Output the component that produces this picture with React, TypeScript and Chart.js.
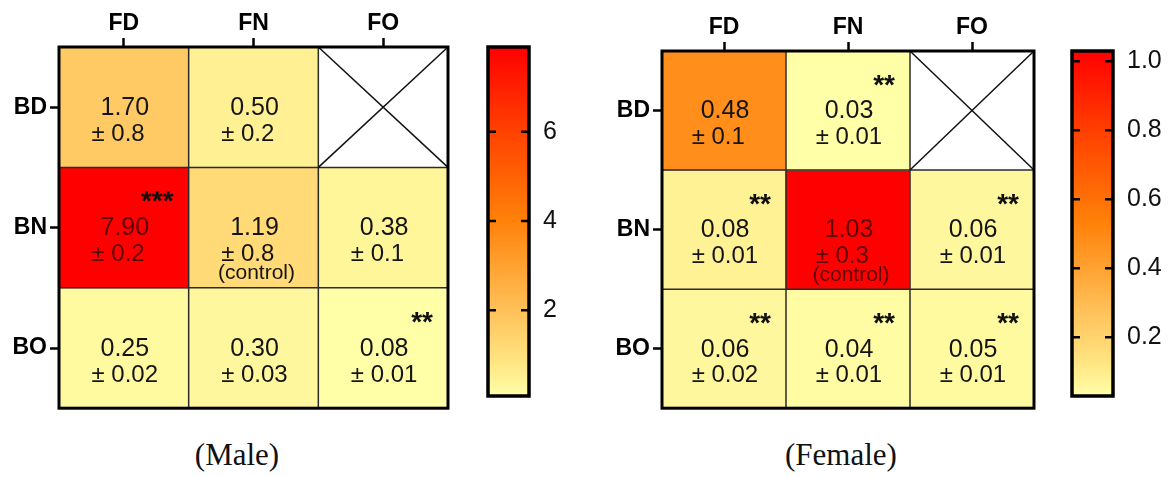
import React, { useEffect, useRef } from "react";
import { Chart, registerables } from "chart.js";

Chart.register(...registerables);

// ---------- data ----------
const colLabels = ["FD", "FN", "FO"];
const rowLabels = ["BD", "BN", "BO"];

const maleMeans: (number | null)[][] = [
  [1.7, 0.5, null],
  [7.9, 1.19, 0.38],
  [0.25, 0.3, 0.08],
];
const maleErrors: (string | null)[][] = [
  ["0.8", "0.2", null],
  ["0.2", "0.8", "0.1"],
  ["0.02", "0.03", "0.01"],
];
const maleStars: string[][] = [
  ["", "", ""],
  ["***", "", ""],
  ["", "", "**"],
];
const maleScaleMin = 0.08;
const maleScaleMax = 7.9;
const maleScaleTicks = [2, 4, 6];

const femaleMeans: (number | null)[][] = [
  [0.48, 0.03, null],
  [0.08, 1.03, 0.06],
  [0.06, 0.04, 0.05],
];
const femaleErrors: (string | null)[][] = [
  ["0.1", "0.01", null],
  ["0.01", "0.3", "0.01"],
  ["0.02", "0.01", "0.01"],
];
const femaleStars: string[][] = [
  ["", "**", ""],
  ["**", "", "**"],
  ["**", "**", "**"],
];
const femaleScaleMin = 0.03;
const femaleScaleMax = 1.03;
const femaleScaleTicks = [0.2, 0.4, 0.6, 0.8, 1.0];

const controlCell = [1, 1];
const controlLabel = "(control)";

// ---------- colour map ----------
const cmapStops: [number, number[]][] = [
  [0, [255, 255, 168]],
  [0.1, [255, 228, 130]],
  [0.25, [255, 192, 88]],
  [0.5, [255, 130, 10]],
  [0.75, [255, 68, 0]],
  [1, [255, 0, 0]],
];
function cmap(t: number): string {
  const tt = Math.max(0, Math.min(1, t));
  for (let i = 1; i < cmapStops.length; i++) {
    const [t1, c1] = cmapStops[i];
    const [t0, c0] = cmapStops[i - 1];
    if (tt <= t1) {
      const f = (tt - t0) / (t1 - t0);
      const c = c0.map((v, k) => Math.round(v + (c1[k] - v) * f));
      return `rgb(${c[0]},${c[1]},${c[2]})`;
    }
  }
  return "rgb(255,0,0)";
}

const SANS = '"Liberation Sans", Arial, Helvetica, sans-serif';
const font = (size: number, weight = "normal") => `${weight} ${size}px ${SANS}`;

// ---------- heatmap ----------
type HeatProps = {
  means: (number | null)[][];
  errors: (string | null)[][];
  stars: string[][];
  min: number;
  max: number;
  left: number;
  top: number;
  width: number;
  height: number;
  leftW: number;
  topH: number;
  padRight: number;
  padBottom: number;
};

function Heatmap(p: HeatProps) {
  const ref = useRef<HTMLCanvasElement>(null);
  useEffect(() => {
    if (!ref.current) return;
    const norm = (v: number) => (v - p.min) / (p.max - p.min);
    const datasets = rowLabels.map((rl, r) => ({
      label: rl,
      data: colLabels.map(() => [r - 0.5, r + 0.5]),
      backgroundColor: colLabels.map((_, c) => {
        const v = p.means[r][c];
        return v == null ? "#ffffff" : cmap(norm(v));
      }),
      borderWidth: 0,
      grouped: false,
      barPercentage: 1,
      categoryPercentage: 1,
    }));

    const cellPlugin = {
      id: "cells",
      afterDatasetsDraw(chart: any) {
        const { ctx, chartArea: ca, scales } = chart;
        const xs = scales.x;
        const ys = scales.y;
        const half = (xs.getPixelForValue(1) - xs.getPixelForValue(0)) / 2;
        ctx.save();
        const line = (x0: number, y0: number, x1: number, y1: number) => {
          ctx.beginPath();
          ctx.moveTo(x0, y0);
          ctx.lineTo(x1, y1);
          ctx.stroke();
        };
        ctx.strokeStyle = "#2a2a2a";
        ctx.lineWidth = 1.5;
        for (let c = 1; c < colLabels.length; c++) {
          const x = xs.getPixelForValue(c) - half;
          line(x, ca.top, x, ca.bottom);
        }
        for (let r = 1; r < rowLabels.length; r++) {
          const y = ys.getPixelForValue(r - 0.5);
          line(ca.left, y, ca.right, y);
        }
        rowLabels.forEach((_, r) => {
          colLabels.forEach((__, c) => {
            const cx = xs.getPixelForValue(c);
            const cy = ys.getPixelForValue(r);
            const x0 = cx - half;
            const x1 = cx + half;
            const y0 = ys.getPixelForValue(r - 0.5);
            const y1 = ys.getPixelForValue(r + 0.5);
            const v = p.means[r][c];
            if (v == null) {
              ctx.strokeStyle = "#111";
              ctx.lineWidth = 1.5;
              line(x0, y0, x1, y1);
              line(x0, y1, x1, y0);
              return;
            }
            const t = norm(v);
            const col = t > 0.9 ? "#5e0000" : "#141414";
            ctx.fillStyle = col;
            ctx.textBaseline = "middle";
            ctx.textAlign = "center";
            ctx.font = font(25);
            const vs = v.toFixed(2);
            const vw = ctx.measureText(vs).width;
            const vx = cx + 1;
            ctx.fillText(vs, vx, cy + 1);
            const err = p.errors[r][c];
            if (err != null) {
              ctx.font = font(24);
              ctx.textAlign = "left";
              ctx.fillText("\u00b1 " + err, vx - vw / 2 - 9, cy + 27);
            }
            if (r === controlCell[0] && c === controlCell[1]) {
              ctx.font = font(21);
              ctx.textAlign = "center";
              ctx.fillText(controlLabel, cx + 3, cy + 46);
            }
            const st = p.stars[r][c];
            if (st) {
              ctx.font = font(28, "bold");
              ctx.textAlign = "right";
              ctx.textBaseline = "alphabetic";
              ctx.fillStyle = "#111";
              ctx.fillText(st, x1 - 15, y0 + 43);
            }
          });
        });
        ctx.strokeStyle = "#000";
        ctx.lineWidth = 3;
        ctx.strokeRect(ca.left, ca.top, ca.right - ca.left, ca.bottom - ca.top);
        ctx.restore();
      },
    };

    const axisGrid = {
      display: true,
      drawOnChartArea: false,
      offset: false,
      drawTicks: true,
      tickLength: 9,
      tickWidth: 2.5,
      tickColor: "#000",
      color: "#000",
    };

    const chart = new Chart(ref.current, {
      type: "bar",
      data: { labels: colLabels, datasets: datasets as any },
      options: {
        animation: false,
        responsive: false,
        maintainAspectRatio: false,
        layout: { padding: { left: 0, top: 0, right: p.padRight, bottom: p.padBottom } },
        plugins: { legend: { display: false }, tooltip: { enabled: false } },
        scales: {
          x: {
            type: "category",
            position: "top",
            offset: true,
            grid: axisGrid as any,
            border: { display: false },
            ticks: {
              color: "#000",
              padding: 1,
              maxRotation: 0,
              font: { family: SANS, size: 23, weight: "bold" },
            },
            afterFit: (s: any) => {
              s.height = p.topH;
            },
          },
          y: {
            type: "linear",
            min: -0.5,
            max: 2.5,
            reverse: true,
            grid: axisGrid as any,
            border: { display: false },
            afterBuildTicks: (s: any) => {
              s.ticks = rowLabels.map((_, i) => ({ value: i }));
            },
            ticks: {
              color: "#000",
              padding: 3,
              font: { family: SANS, size: 23, weight: "bold" },
              callback: (v: any) => rowLabels[Math.round(Number(v))] ?? "",
            },
            afterFit: (s: any) => {
              s.width = p.leftW;
            },
          },
        },
      },
      plugins: [cellPlugin],
    });
    return () => chart.destroy();
  }, []);
  return (
    <canvas
      ref={ref}
      width={p.width}
      height={p.height}
      style={{ position: "absolute", left: p.left, top: p.top, width: p.width, height: p.height }}
    />
  );
}

// ---------- colour bar ----------
type BarProps = {
  min: number;
  max: number;
  ticks: number[];
  digits: number;
  left: number;
  top: number;
  width: number;
  height: number;
  padLeft: number;
  padTop: number;
  padBottom: number;
  axisW: number;
};

function ColorBar(p: BarProps) {
  const ref = useRef<HTMLCanvasElement>(null);
  useEffect(() => {
    if (!ref.current) return;
    const framePlugin = {
      id: "cbframe",
      afterDatasetsDraw(chart: any) {
        const { ctx, chartArea: ca, scales } = chart;
        const ys = scales.y;
        ctx.save();
        ctx.strokeStyle = "#000";
        ctx.lineWidth = 2.5;
        p.ticks.forEach((t) => {
          const y = ys.getPixelForValue(t);
          ctx.beginPath();
          ctx.moveTo(ca.left, y);
          ctx.lineTo(ca.left + 8, y);
          ctx.moveTo(ca.right - 8, y);
          ctx.lineTo(ca.right, y);
          ctx.stroke();
        });
        ctx.lineWidth = 3.5;
        ctx.strokeRect(ca.left, ca.top, ca.right - ca.left, ca.bottom - ca.top);
        ctx.restore();
      },
    };
    const chart = new Chart(ref.current, {
      type: "bar",
      data: {
        labels: [""],
        datasets: [
          {
            data: [[p.min, p.max]] as any,
            backgroundColor: (c: any) => {
              const ch = c.chart;
              const ys = ch.scales && ch.scales.y;
              if (!ys || !ch.chartArea) return cmap(0);
              const y0 = ys.getPixelForValue(p.min);
              const y1 = ys.getPixelForValue(p.max);
              const g = ch.ctx.createLinearGradient(0, y0, 0, y1);
              for (let i = 0; i <= 20; i++) g.addColorStop(i / 20, cmap(i / 20));
              return g;
            },
            borderWidth: 0,
            barPercentage: 1,
            categoryPercentage: 1,
          },
        ],
      },
      options: {
        animation: false,
        responsive: false,
        maintainAspectRatio: false,
        layout: { padding: { left: p.padLeft, top: p.padTop, right: 0, bottom: p.padBottom } },
        plugins: { legend: { display: false }, tooltip: { enabled: false } },
        scales: {
          x: { display: false, offset: true },
          y: {
            position: "right",
            min: p.min,
            max: p.max,
            grid: { display: false, drawTicks: false },
            border: { display: false },
            afterBuildTicks: (s: any) => {
              s.ticks = p.ticks.map((v) => ({ value: v }));
            },
            ticks: {
              color: "#111",
              padding: 14,
              font: { family: SANS, size: 25 },
              callback: (v: any) => Number(v).toFixed(p.digits),
            },
            afterFit: (s: any) => {
              s.width = p.axisW;
            },
          },
        },
      },
      plugins: [framePlugin],
    });
    return () => chart.destroy();
  }, []);
  return (
    <canvas
      ref={ref}
      width={p.width}
      height={p.height}
      style={{ position: "absolute", left: p.left, top: p.top, width: p.width, height: p.height }}
    />
  );
}

const captionStyle: React.CSSProperties = {
  position: "absolute",
  width: 240,
  textAlign: "center",
  font: '31px "Liberation Serif", "Times New Roman", serif',
  lineHeight: "34px",
  color: "#111",
};

export default function App() {
  useEffect(() => {
    document.body.style.margin = "0";
    document.body.style.background = "#fff";
  }, []);
  return (
    <div style={{ position: "relative", width: 1168, height: 477, overflow: "hidden", background: "#fff" }}>
      <Heatmap
        means={maleMeans}
        errors={maleErrors}
        stars={maleStars}
        min={maleScaleMin}
        max={maleScaleMax}
        left={0}
        top={0}
        width={470}
        height={425}
        leftW={59}
        topH={47}
        padRight={22}
        padBottom={11}
      />
      <ColorBar
        min={maleScaleMin}
        max={maleScaleMax}
        ticks={maleScaleTicks}
        digits={0}
        left={470}
        top={0}
        width={130}
        height={425}
        padLeft={18}
        padTop={47}
        padBottom={10}
        axisW={71}
      />
      <Heatmap
        means={femaleMeans}
        errors={femaleErrors}
        stars={femaleStars}
        min={femaleScaleMin}
        max={femaleScaleMax}
        left={600}
        top={0}
        width={450}
        height={425}
        leftW={62}
        topH={51}
        padRight={16}
        padBottom={12}
      />
      <ColorBar
        min={femaleScaleMin}
        max={femaleScaleMax}
        ticks={femaleScaleTicks}
        digits={1}
        left={1050}
        top={0}
        width={118}
        height={425}
        padLeft={22}
        padTop={51}
        padBottom={12}
        axisW={55}
      />
      <div style={{ ...captionStyle, left: 237 - 120, top: 438 }}>(Male)</div>
      <div style={{ ...captionStyle, left: 841 - 120, top: 438 }}>(Female)</div>
    </div>
  );
}
